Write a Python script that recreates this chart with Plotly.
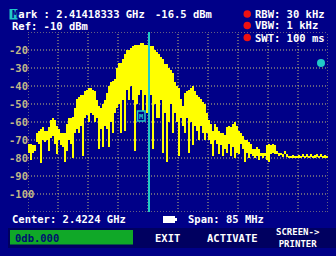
import numpy as np
import plotly.graph_objects as go

# ---------------- data ----------------
center_ghz = 2.4224
span_ghz = 0.085
marker_ghz = 2.41418333
marker_dbm = -16.5
ref_dbm = -10
y_ticks = [-20, -30, -40, -50, -60, -70, -80, -90, -100]

# per sweep column: max (top) and min (bottom) level in dBm, 150 columns
trace_max = [
    -72, -72, -73, -73, -66, -65, -64, -63, -65, -65,
    -63, -59, -58, -59, -62, -64, -66, -66, -66, -61,
    -58, -58, -57, -52, -47, -46, -45, -45, -43, -42,
    -41, -41, -42, -43, -48, -51, -52, -50, -48, -44,
    -40, -38, -37, -36, -30, -27, -27, -25, -22, -20,
    -20, -19, -18, -17, -17, -17, -16, -16, -17, -17,
    -16.5, -18, -18, -20, -21, -22, -24, -25, -28, -28,
    -30, -31, -33, -38, -40, -41, -47, -51, -44, -43,
    -42, -41, -40, -43, -45, -46, -47, -49, -50, -55,
    -59, -61, -65, -61, -63, -65, -66, -66, -67, -63,
    -62, -63, -61, -60, -62, -65, -66, -68, -70, -70,
    -71, -72, -75, -75, -74, -75, -77, -77, -77, -73,
    -72, -73, -72, -73, -76, -77, -77, -78, -76, -78,
    -79, -79, -78.5, -79, -79, -78.5, -79, -78, -79, -78,
    -79, -77.5, -79, -78.5, -78, -79, -78, -79, -78.5, -79,
]
trace_min = [
    -77, -81, -77, -76, -71, -72, -83, -70, -71, -70,
    -76, -69, -68, -72, -78, -70, -73, -74, -82, -76,
    -70, -72, -80, -66, -64, -66, -62, -79, -58, -56,
    -60, -55, -56, -60, -58, -75, -64, -74, -62, -64,
    -74, -60, -66, -55, -52, -50, -66, -48, -65, -42,
    -48, -40, -48, -76, -50, -45, -42, -58, -45, -55,
    -40, -45, -75, -50, -58, -58, -48, -77, -55, -82,
    -60, -50, -66, -55, -60, -79, -58, -62, -66, -58,
    -77, -60, -73, -62, -65, -70, -62, -66, -70, -66,
    -70, -72, -79, -70, -72, -78, -73, -79, -75, -77,
    -72, -79, -74, -80, -77, -78, -72, -75, -82, -77,
    -80, -78, -79, -80, -79, -81, -79, -80, -79, -81,
    -82, -78, -77, -78, -78, -79, -78, -79, -78, -79,
    -80, -80, -79.5, -80, -79.8, -79.5, -80, -79.5, -80, -79.5,
    -80, -79.5, -80, -79.5, -79.5, -80, -79.5, -80, -79.5, -80,
]

# ---------------- geometry ----------------
W, H = 336, 256
PL, PR, PT, PB = 28, 328, 32, 212  # plot area in pixels
NAVY = "#000088"
YELLOW = "#ffff00"
CYAN = "#20c8c8"
GRID = "#c8c078"
TAN = "#c0b888"
FONT = "DejaVu Sans Mono"

f0 = center_ghz - span_ghz / 2
f1 = center_ghz + span_ghz / 2
n = len(trace_max)
colw = span_ghz / n
freqs = f0 + (np.arange(n) + 0.5) * colw
tmax = np.array(trace_max, dtype=float)
tmin = np.array(trace_min, dtype=float)


def px(x):
    return (x - PL) / (PR - PL)


def py(y):
    return (PB - y) / (PB - PT)


fig = go.Figure()
fig.add_trace(go.Bar(
    x=freqs, y=tmax - tmin, base=tmin, width=colw,
    marker=dict(color=YELLOW, line=dict(width=0)),
    hoverinfo="skip", showlegend=False,
))

shapes = []
# dotted grid
for k in range(11):
    xv = f0 + k * span_ghz / 10
    shapes.append(dict(type="line", xref="x", yref="y", x0=xv, x1=xv,
                       y0=ref_dbm - 100, y1=ref_dbm, layer="below",
                       line=dict(color=GRID, width=1, dash="1px,2px")))
for k in range(11):
    yv = ref_dbm - 10 * k
    shapes.append(dict(type="line", xref="x", yref="y", x0=f0, x1=f1,
                       y0=yv, y1=yv, layer="below",
                       line=dict(color=GRID, width=1, dash="1px,2px")))
# marker line
shapes.append(dict(type="line", xref="x", yref="paper", x0=marker_ghz, x1=marker_ghz,
                   y0=0, y1=1, layer="above", line=dict(color=CYAN, width=2)))
# marker box
shapes.append(dict(type="rect", xref="paper", yref="paper",
                   x0=px(137.5), x1=px(145), y0=py(121), y1=py(111), layer="above",
                   fillcolor=NAVY, line=dict(color=CYAN, width=1.5)))
# cyan dot top-right
shapes.append(dict(type="circle", xref="paper", yref="paper",
                   x0=px(317), x1=px(325), y0=py(67), y1=py(59), layer="above",
                   fillcolor=CYAN, line=dict(width=0)))
# highlighted M
shapes.append(dict(type="rect", xref="paper", yref="paper",
                   x0=px(9.5), x1=px(17.5), y0=py(19.5), y1=py(9), layer="above",
                   fillcolor=CYAN, line=dict(width=0)))
# red dots
for yc in (14, 25.5, 37.5):
    shapes.append(dict(type="circle", xref="paper", yref="paper",
                       x0=px(243.5), x1=px(251), y0=py(yc + 3.8), y1=py(yc - 3.8),
                       layer="above", fillcolor="#ee1111", line=dict(width=0)))
# battery icon
shapes.append(dict(type="rect", xref="paper", yref="paper",
                   x0=px(163), x1=px(175), y0=py(223), y1=py(216), layer="above",
                   fillcolor="white", line=dict(width=0)))
shapes.append(dict(type="rect", xref="paper", yref="paper",
                   x0=px(175), x1=px(177), y0=py(221), y1=py(218), layer="above",
                   fillcolor="white", line=dict(width=0)))
# bottom soft-key bar
shapes.append(dict(type="rect", xref="paper", yref="paper",
                   x0=px(8), x1=px(336), y0=py(248), y1=py(228), layer="above",
                   fillcolor="#000060", line=dict(width=0)))
shapes.append(dict(type="rect", xref="paper", yref="paper",
                   x0=px(10), x1=px(133), y0=py(244.5), y1=py(230), layer="above",
                   fillcolor="#10a828", line=dict(width=0)))

ann = []


def text(x, y, s, color="white", size=10.5, anchor="left"):
    ann.append(dict(xref="paper", yref="paper", x=px(x), y=py(y), text=s,
                    showarrow=False, xanchor=anchor, yanchor="middle",
                    font=dict(family=FONT, size=size, color=color, weight="bold")))


text(9.5, 14.5, f'<span style="color:{NAVY}">M</span>ark : {marker_ghz:.8f} GHz')
text(153, 14.5, f"{marker_dbm} dBm")
text(9.5, 26, f"Ref: {ref_dbm} dBm")
text(253, 14, "RBW: 30 kHz")
text(253, 25.5, "VBW: 1 kHz")
text(253, 37.5, "SWT: 100 ms")
text(9.5, 219, f"Center: {center_ghz} GHz")
text(186, 219, f"Span: {span_ghz * 1000:.0f} MHz")
text(13, 237.5, "0db.000", color="#001070")
text(167.5, 237.5, "EXIT", anchor="center")
text(232, 237.5, "ACTIVATE", anchor="center")
ann.append(dict(xref="paper", yref="paper", x=px(298), y=py(237.5),
                text="SCREEN-><br>PRINTER", showarrow=False, xanchor="center",
                yanchor="middle", align="center", borderpad=0,
                font=dict(family=FONT, size=9, color="white", weight="bold")))
text(141.2, 116.5, "M", color=CYAN, size=7, anchor="center")

for t in y_ticks:
    ann.append(dict(xref="paper", yref="y", x=px(6.5), y=t, text=str(t),
                    showarrow=False, xanchor="left", yanchor="middle",
                    font=dict(family=FONT, size=10.5, color=TAN, weight="bold")))

fig.update_layout(
    width=W, height=H,
    margin=dict(l=PL, r=W - PR, t=PT, b=H - PB, pad=0),
    paper_bgcolor=NAVY, plot_bgcolor=NAVY,
    bargap=0, showlegend=False,
    xaxis=dict(range=[f0, f1], showgrid=False, zeroline=False, showticklabels=False,
               showline=False, ticks="", fixedrange=True),
    yaxis=dict(range=[ref_dbm - 100, ref_dbm], showgrid=False, zeroline=False,
               showticklabels=False, showline=False, ticks="", fixedrange=True),
    shapes=shapes, annotations=ann,
)

fig.write_html("out.html", config={"displayModeBar": False})
